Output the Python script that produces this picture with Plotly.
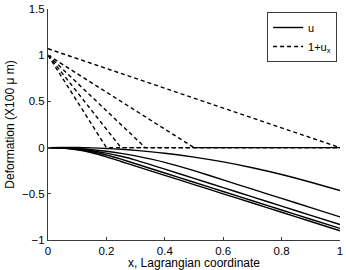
import plotly.graph_objects as go

# Lagrangian coordinate samples for the displacement curves u
x_u = [0, 0.05, 0.1, 0.15, 0.2, 0.25, 0.3, 0.4, 0.5, 0.6, 0.7, 0.8, 0.9, 1.0]
u_1 = [0, 0.002, 0.001, -0.003, -0.009, -0.018, -0.030, -0.061, -0.103, -0.155, -0.218, -0.291, -0.375, -0.465]
u_2 = [0, -0.0025, -0.01, -0.0225, -0.04, -0.0625, -0.09, -0.16, -0.25, -0.35, -0.45, -0.55, -0.65, -0.75]
u_3 = [0, -0.004, -0.015, -0.034, -0.06, -0.094, -0.135, -0.233, -0.333, -0.433, -0.533, -0.633, -0.733, -0.833]
u_4 = [0, -0.005, -0.02, -0.045, -0.08, -0.125, -0.175, -0.275, -0.375, -0.475, -0.575, -0.675, -0.775, -0.875]
u_5 = [0, -0.006, -0.025, -0.056, -0.1, -0.15, -0.2, -0.3, -0.4, -0.5, -0.6, -0.7, -0.8, -0.9]

# 1+u_x curves (piecewise linear, corner points)
ux_x1 = [0, 1.0]
ux_y1 = [1.07, 0]
ux_x2 = [0, 0.5, 1.0]
ux_y2 = [1, 0, 0]
ux_x3 = [0, 0.333, 1.0]
ux_y3 = [1, 0, 0]
ux_x4 = [0, 0.25, 1.0]
ux_y4 = [1, 0, 0]
ux_x5 = [0, 0.2, 1.0]
ux_y5 = [1, 0, 0]

x_ticks = [0, 0.2, 0.4, 0.6, 0.8, 1]
x_ticklabels = ["0", "0.2", "0.4", "0.6", "0.8", "1"]
y_ticks = [-1, -0.5, 0, 0.5, 1, 1.5]
y_ticklabels = ["\u22121", "\u22120.5", "0", "0.5", "1", "1.5"]

fig = go.Figure()

u_series = [u_1, u_2, u_3, u_4, u_5]
for i, u in enumerate(u_series):
    fig.add_trace(go.Scatter(
        x=x_u, y=u, mode="lines", name="u",
        line=dict(color="black", width=1.4, shape="spline", smoothing=0.6),
        showlegend=(i == 0), legendrank=1,
    ))

ux_series = [(ux_x1, ux_y1), (ux_x2, ux_y2), (ux_x3, ux_y3), (ux_x4, ux_y4), (ux_x5, ux_y5)]
for i, (xx, yy) in enumerate(ux_series):
    fig.add_trace(go.Scatter(
        x=xx, y=yy, mode="lines", name="1+u<sub>x</sub>",
        line=dict(color="black", width=1.4, dash="4px,3px"),
        showlegend=(i == 0), legendrank=2,
    ))

axis_color = "#3a3a3a"
fig.update_layout(
    width=346, height=270,
    margin=dict(l=48, r=6, t=9, b=30, autoexpand=False),
    paper_bgcolor="white", plot_bgcolor="white",
    font=dict(family="Liberation Sans, Arial, sans-serif", size=11.5, color="black"),
    showlegend=True,
    legend=dict(
        x=0.99, y=0.987, xanchor="right", yanchor="top",
        bordercolor=axis_color, borderwidth=1, bgcolor="white",
        font=dict(size=11), tracegroupgap=0, itemwidth=30,
    ),
    xaxis=dict(
        range=[0, 1], tickvals=x_ticks, ticktext=x_ticklabels,
        ticks="inside", ticklen=3, tickcolor=axis_color,
        showline=True, linecolor=axis_color, linewidth=1,
        showgrid=False, zeroline=False, automargin=False,
        title=dict(text="x, Lagrangian coordinate", font=dict(size=12), standoff=0),
    ),
    yaxis=dict(
        range=[-1, 1.5], tickvals=y_ticks, ticktext=y_ticklabels,
        ticks="inside", ticklen=3, tickcolor=axis_color,
        showline=True, linecolor=axis_color, linewidth=1,
        showgrid=False, zeroline=False, automargin=False,
        title=dict(text="Deformation (X100 \u03bc m)", font=dict(size=12), standoff=4),
    ),
)

fig.write_html(
    "out.html",
    config={"displayModeBar": False},
    post_script="document.body.style.margin='0';document.body.style.overflow='hidden';",
)
